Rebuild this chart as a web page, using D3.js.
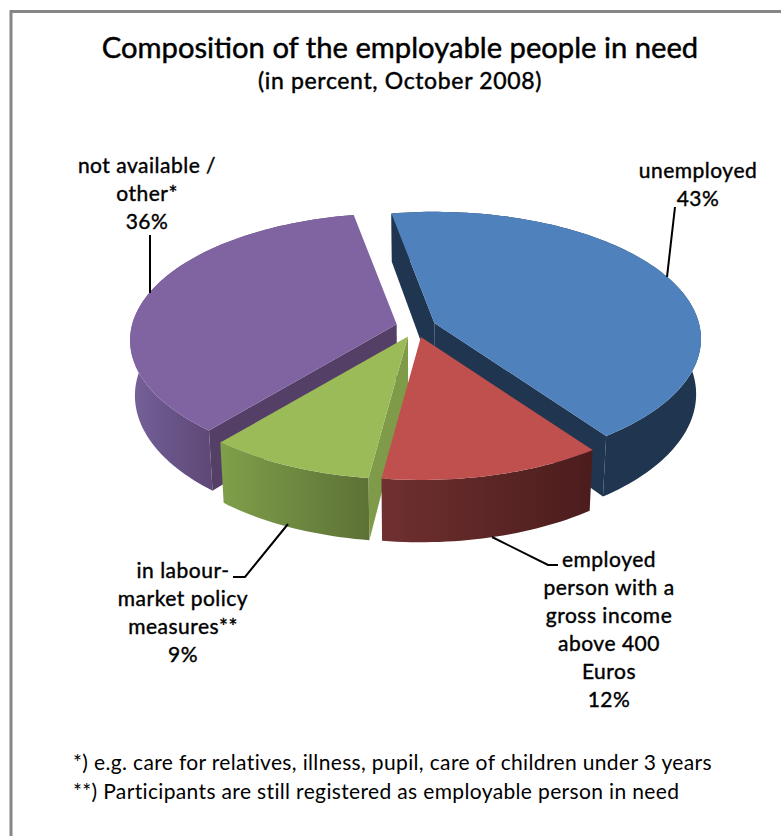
<!DOCTYPE html>
<html>
<head>
<meta charset="utf-8">
<script src="https://cdn.jsdelivr.net/npm/d3@7/dist/d3.min.js"></script>
<style>
  html, body { margin: 0; padding: 0; background: #fff; }
  svg { display: block; }
  text { font-family: Lato, "Open Sans", sans-serif; fill: #000; }
</style>
</head>
<body>
<svg id="chart" width="781" height="836"></svg>
<script>
// Composition of the employable people in need, October 2008
const categories = ["unemployed", "employed", "labour-market", "not available"];
const shares = [43, 12, 9, 36];
const labelLines = [
  ["unemployed"],
  ["employed", "person with a", "gross income", "above 400", "Euros"],
  ["in labour-", "market policy", "measures**"],
  ["not available /", "other*"]
];
const titleLines = ["Composition of the employable people in need", "(in percent, October 2008)"];
const footnotes = [
  "*) e.g. care for relatives, illness, pupil, care of children under 3 years",
  "**) Participants are still registered as employable person in need"
];

const topColors = ["#4f81bd", "#c0504d", "#9bbb59", "#8064a2"];
const wallColors = ["#1f3550", null, "#7f9a48", "#543f66"];
const rimStops = [
  ["#1f3550", "#1f3550"],
  ["#6f3030", "#4c1c1c"],
  ["#80a04a", "#5d7236"],
  ["#745f98", "#5d4876"]
];
const rimSpans = [[600, 702], [382, 590], [219, 366], [135, 212]];

const svg = d3.select("#chart");

// Disc projection: a tilted circle seen with mild perspective
const cx = 416, cy = 327;
const radiusX = 264.5, radiusY = 125, perspective = 0.125;
const explodeX = 20, explodeY = 10.4;
const depth = 54.5, bottomInset = 0.983;
const firstAngle = -10.5 * Math.PI / 180;

const slices = d3.pie().value(d => d).sort(null)
  .startAngle(firstAngle).endAngle(firstAngle + 2 * Math.PI)(shares);

function apex(s) {
  const mid = (s.startAngle + s.endAngle) / 2;
  return [cx + explodeX * Math.sin(mid), cy - explodeY * Math.cos(mid)];
}
// r is 1 on the rim and 0 at the apex; lower is 1 on the underside
function point(s, angle, r, lower) {
  const a = apex(s);
  const w = 1 + perspective * r * Math.cos(angle);
  let x = a[0] + r * radiusX * Math.sin(angle) / w;
  const y = a[1] - r * radiusY * Math.cos(angle) / w + (lower ? depth / w : 0);
  if (lower) x = cx + (x - cx) * bottomInset;
  return [x, y];
}
function arcAngles(s) {
  const n = Math.ceil((s.endAngle - s.startAngle) * 40);
  return d3.range(n + 1).map(i => s.startAngle + (s.endAngle - s.startAngle) * i / n);
}
const outline = d3.line().curve(d3.curveLinearClosed);

const defs = svg.append("defs");
rimStops.forEach((stops, i) => {
  const g = defs.append("linearGradient").attr("id", "rim" + i)
    .attr("gradientUnits", "userSpaceOnUse")
    .attr("x1", rimSpans[i][0]).attr("x2", rimSpans[i][1]).attr("y1", 0).attr("y2", 0);
  g.append("stop").attr("offset", 0).attr("stop-color", stops[0]);
  g.append("stop").attr("offset", 1).attr("stop-color", stops[1]);
});

// Chart frame, running off the right and bottom of the page
svg.append("path").attr("d", "M11,836V11.5H781")
  .attr("fill", "none").attr("stroke", "#868686").attr("stroke-width", 3);

// Title
svg.selectAll("text.title").data(titleLines).join("text")
  .attr("class", "title").attr("x", 400).attr("text-anchor", "middle")
  .attr("y", (d, i) => i ? 89 : 57.5)
  .attr("font-size", (d, i) => i ? 23 : 29.2)
  .attr("letter-spacing", (d, i) => i ? 0.65 : 0)
  .attr("stroke", "#000").attr("stroke-width", 0.45)
  .text(d => d);

// Slices back to front: blue, purple, green, red
const order = [0, 3, 2, 1];
order.forEach(i => {
  const s = slices[i];
  const g = svg.append("g").attr("class", "slice-" + categories[i].replace(/\s/g, "-"));
  const angles = arcAngles(s);
  const rim = angles.map(a => point(s, a, 1, false))
    .concat(angles.slice().reverse().map(a => point(s, a, 1, true)));
  g.append("path").attr("d", outline(rim)).attr("fill", `url(#rim${i})`);

  const a = apex(s);
  const aLow = [cx + (a[0] - cx) * bottomInset, a[1] + depth];
  const wall = ang => [a, point(s, ang, 1, false), point(s, ang, 1, true), aLow];
  if (i === 0) {
    g.append("path").attr("d", outline(wall(s.startAngle))).attr("fill", wallColors[i]);
    g.append("path").attr("d", outline(wall(s.endAngle))).attr("fill", wallColors[i]);
  } else if (i === 2 || i === 3) {
    g.append("path").attr("d", outline(wall(s.startAngle))).attr("fill", wallColors[i]);
  }

  const top = [a].concat(angles.map(ang => point(s, ang, 1, false)));
  g.append("path").attr("d", outline(top)).attr("fill", topColors[i]);
});

// Leader lines, from the labels to the rim
const leaderPaths = [
  [[675, 207], [667, 277]],
  [[492, 537], [548, 565], [558, 565]],
  [[288, 524], [245, 577], [233, 577]],
  [[150, 235], [150, 293]]
];
svg.selectAll("path.leader").data(leaderPaths).join("path")
  .attr("class", "leader")
  .attr("d", d => d3.line()(d))
  .attr("fill", "none").attr("stroke", "#000").attr("stroke-width", 2);

// Category labels with their percentage on the last line
const labelAnchors = [[698, 178], [609, 567], [183, 578], [147, 173]];
const lineStep = 28;
labelLines.forEach((lines, i) => {
  const all = lines.concat(shares[i] + "%");
  svg.append("g").attr("class", "label").selectAll("text").data(all).join("text")
    .attr("x", labelAnchors[i][0])
    .attr("y", (d, k) => labelAnchors[i][1] + k * lineStep)
    .attr("text-anchor", "middle")
    .attr("font-size", 21)
    .attr("letter-spacing", 0.5)
    .attr("stroke", "#000").attr("stroke-width", 0.4)
    .text(d => d);
});

// Footnotes
svg.selectAll("text.note").data(footnotes).join("text")
  .attr("class", "note").attr("x", 73)
  .attr("y", (d, i) => 770 + i * 28.5)
  .attr("font-size", 21)
  .attr("letter-spacing", 0.35)
  .text(d => d);
</script>
</body>
</html>
